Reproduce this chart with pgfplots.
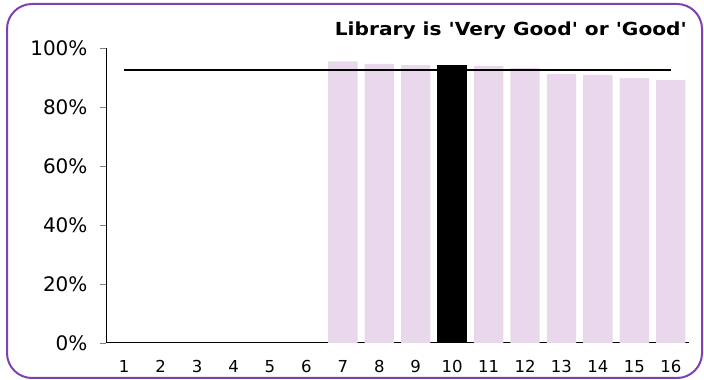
\documentclass[border=0pt]{standalone}
\usepackage{fontspec}
\setmainfont{DejaVu Sans}
\newfontfamily\titlefont{DejaVu Sans}[FakeStretch=1.12]
\usepackage{pgfplots}
\pgfplotsset{compat=1.18}
\definecolor{barpink}{RGB}{233,215,235}
\definecolor{frame}{RGB}{125,65,180}
\begin{document}
\begin{tikzpicture}
\begin{axis}[
  at={(106pt,37pt)}, anchor=south west,
  scale only axis, width=583pt, height=295pt,
  xmin=0.5, xmax=16.5, ymin=0, ymax=100,
  axis x line*=bottom, axis y line*=left,
  axis line style={black, line width=1pt, -},
  xtick={1,...,16},
  ytick={0,20,...,100},
  x tick style={draw=none},
  y tick style={gray, line width=0.8pt},
  tick align=outside,
  major tick length=6pt,
  /pgf/number format/assume math mode=true,
  yticklabel={\pgfmathprintnumber{\tick}\%},
  yticklabel style={font=\fontsize{20}{24}\selectfont, xshift=-9pt},
  xticklabel style={font=\fontsize{16.5}{20}\selectfont, yshift=-8pt},
]
\addplot[ybar, bar width=29.4pt, bar shift=0pt, fill=barpink, draw=none]
  coordinates {(7,95.5) (8,94.6) (9,94.2) (11,93.9) (12,93.2) (13,91.2) (14,90.9) (15,89.8) (16,89.1)};
\addplot[ybar, bar width=29.4pt, bar shift=0pt, fill=black, draw=none]
  coordinates {(10,94.2)};
\addplot[black, line width=2.5pt] coordinates {(1,92.6) (16,92.6)};
\end{axis}
\node[anchor=base east, inner sep=0pt] at (687pt,344pt) {\titlefont\bfseries\fontsize{18}{22}\selectfont Library is 'Very Good' or 'Good'};
\draw[frame, line width=2pt, rounded corners=25pt] (7pt,2pt) rectangle (702pt,376pt);
\pgfresetboundingbox
\useasboundingbox (0,0) rectangle (704pt,380pt);
\end{tikzpicture}
\end{document}
